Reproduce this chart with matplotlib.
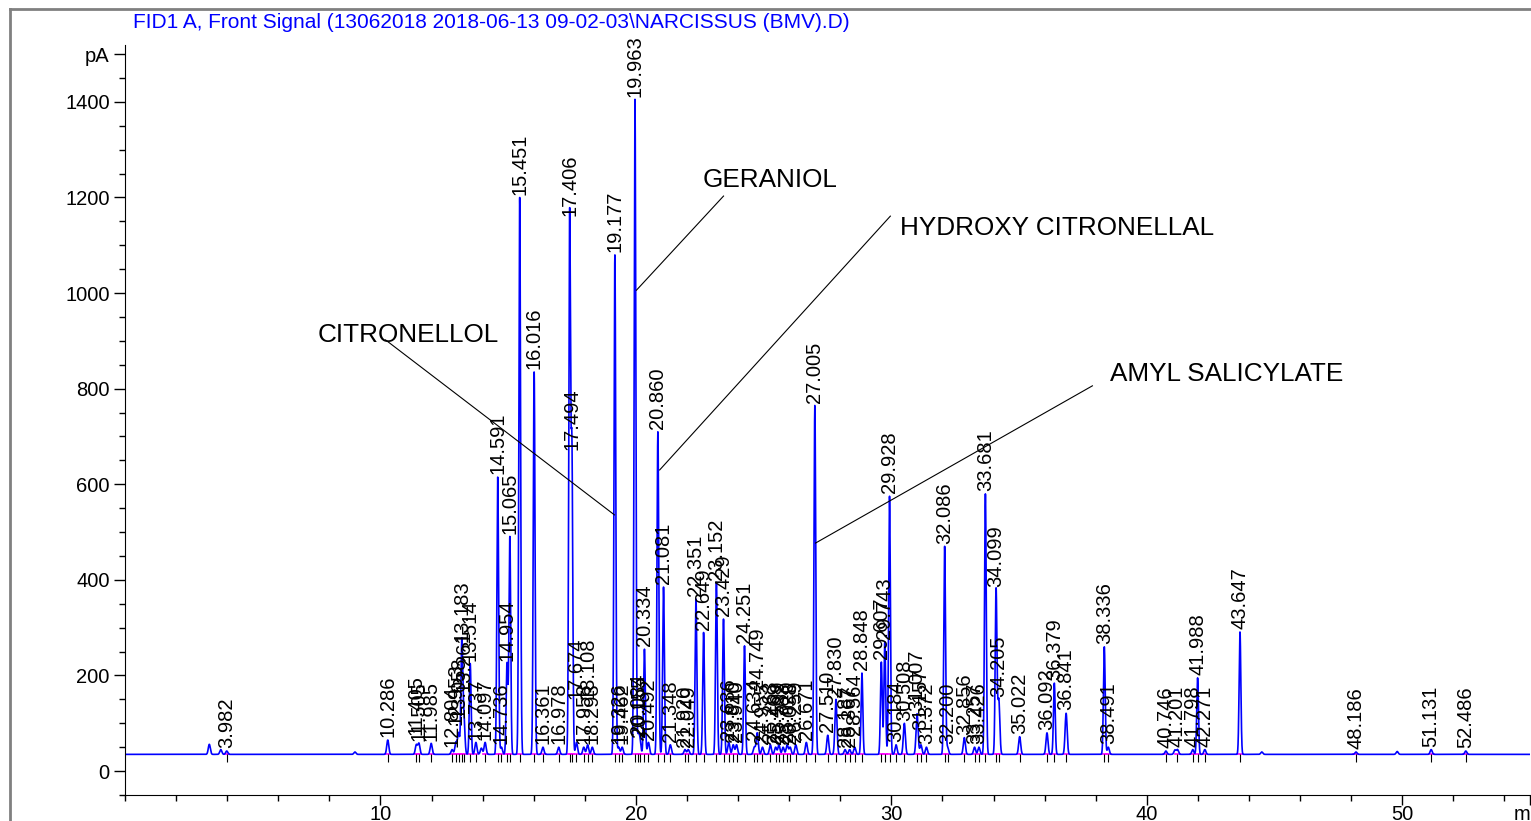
import numpy as np
import matplotlib
matplotlib.use("Agg")
import matplotlib.pyplot as plt
from matplotlib.ticker import MultipleLocator

plt.rcParams['font.family'] = ['Liberation Sans', 'DejaVu Sans']

title = "FID1 A, Front Signal (13062018 2018-06-13 09-02-03\\NARCISSUS (BMV).D)"
baseline = 35

# labelled peaks: retention time (min) and apex (pA)
peak_rt = [3.982, 10.286, 11.405, 11.505, 11.985, 12.804, 12.953, 13.058,
           13.183, 13.261, 13.514, 13.737, 14.097, 14.591, 14.736, 14.954,
           15.065, 15.451, 16.016, 16.361, 16.978, 17.406, 17.494, 17.674,
           17.958, 18.108, 18.293, 19.177, 19.326, 19.462, 19.963, 20.084,
           20.155, 20.334, 20.492, 20.860, 21.081, 21.348, 21.920, 22.049,
           22.351, 22.649, 23.152, 23.429, 23.636, 23.810, 23.940, 24.251,
           24.634, 24.749, 24.955, 25.263, 25.469, 25.599, 25.763, 25.920,
           26.038, 26.259, 26.671, 27.005, 27.510, 27.830, 28.187, 28.367,
           28.564, 28.848, 29.607, 29.743, 29.928, 30.184, 30.508, 31.007,
           31.157, 31.372, 32.086, 32.200, 32.856, 33.257, 33.426, 33.681,
           34.099, 34.205, 35.022, 36.092, 36.379, 36.841, 38.336, 38.491,
           40.746, 41.201, 41.798, 41.988, 42.271, 43.647, 48.186, 51.131,
           52.486]
peak_height = [42, 65, 55, 58, 58, 45, 60, 80,
               265, 120, 225, 60, 60, 615, 50, 225,
               490, 1200, 835, 50, 50, 1155, 665, 60,
               50, 55, 50, 1080, 50, 50, 1405, 70,
               65, 255, 60, 710, 385, 55, 45, 45,
               360, 290, 395, 318, 60, 55, 55, 262,
               50, 80, 50, 55, 50, 55, 50, 55,
               50, 55, 60, 765, 75, 150, 45, 45,
               50, 205, 228, 270, 575, 55, 100, 120,
               55, 50, 470, 50, 70, 50, 50, 580,
               380, 150, 72, 80, 184, 121, 260, 50,
               42, 45, 45, 195, 45, 291, 40, 45,
               42]

# small unlabelled bumps
extra_rt = [3.30, 3.75, 9.0, 13.95, 41.10, 44.5, 49.8]
extra_height = [56, 45, 40, 48, 44, 40, 41]

# compound annotations: name, text (x, y), line start, line end
compounds = ["CITRONELLOL", "GERANIOL", "HYDROXY CITRONELLAL", "AMYL SALICYLATE"]
text_xy = [(7.53, 912), (22.6, 1237), (30.35, 1136), (38.57, 831)]
line_from = [(10.20, 902), (23.43, 1203), (29.96, 1161), (37.87, 806)]
line_to = [(19.16, 536), (20.02, 1006), (20.93, 630), (27.03, 477)]

# labels that ChemStation lifted above their (small) peaks, in pA
label_lift = {11.405: 15, 12.953: 30, 13.058: 25, 13.261: 40, 17.674: 85,
              18.108: 90, 24.749: 85, 24.634: 10, 28.564: 20, 31.157: 25}

t = np.linspace(0, 55, 40000)
signal = np.full_like(t, baseline, dtype=float)
for rt, h in zip(peak_rt + extra_rt, peak_height + extra_height):
    sig = 0.034 if h > 150 else 0.04
    signal += (h - baseline) * np.exp(-0.5 * ((t - rt) / sig) ** 2)

fig = plt.figure(figsize=(15.31, 8.21), dpi=100)
ax = fig.add_axes([125 / 1531, 26 / 821, 1405 / 1531, 750 / 821])

# integration baselines (magenta) and retention time marks
for rt in peak_rt:
    ax.plot([rt - 0.1, rt + 0.1], [baseline, baseline], color='#ff00ff', lw=1.2)
ax.plot(t, signal, color='#0000ff', lw=1.2)
ax.vlines(peak_rt, baseline - 16, baseline, color='black', lw=0.8)

for rt, h in zip(peak_rt, peak_height):
    ax.annotate("%.3f" % rt, (rt, h + label_lift.get(rt, 0)), xytext=(0, 2),
                textcoords='offset points', rotation=90, ha='center',
                va='bottom', fontsize=14.5)

for name, txy, p0, p1 in zip(compounds, text_xy, line_from, line_to):
    ax.plot([p0[0], p1[0]], [p0[1], p1[1]], color='black', lw=0.8)
    ax.text(txy[0], txy[1], name, ha='left', va='center', fontsize=18.8)

ax.set_xlim(0, 55)
ax.set_ylim(-50, 1519)
for s in ['top', 'right']:
    ax.spines[s].set_visible(False)
ax.set_xticks([10, 20, 30, 40, 50, 55])
ax.set_xticklabels(['10', '20', '30', '40', '50', 'min'])
ax.xaxis.set_minor_locator(MultipleLocator(2))
ax.set_yticks(list(range(0, 1401, 200)) + [1500])
ax.set_yticklabels([str(v) for v in range(0, 1401, 200)] + ['pA'])
ax.yaxis.set_minor_locator(MultipleLocator(50))
ax.tick_params(which='major', length=8, width=1, labelsize=14.5, pad=3)
ax.tick_params(axis='x', which='major', length=7, pad=0.5)
ax.tick_params(which='minor', length=4.5, width=1)

fig.text(133 / 1531, 1 - 22 / 821, title, color='#0000ff', fontsize=15,
         ha='left', va='center')

# outer frame
fig.add_artist(plt.Line2D([10 / 1531, 10 / 1531], [0, 1 - 9 / 821],
                          transform=fig.transFigure, color='#808080', lw=2))
fig.add_artist(plt.Line2D([10 / 1531, 1], [1 - 9 / 821, 1 - 9 / 821],
                          transform=fig.transFigure, color='#808080', lw=2))

fig.savefig("out.png", dpi=100)
